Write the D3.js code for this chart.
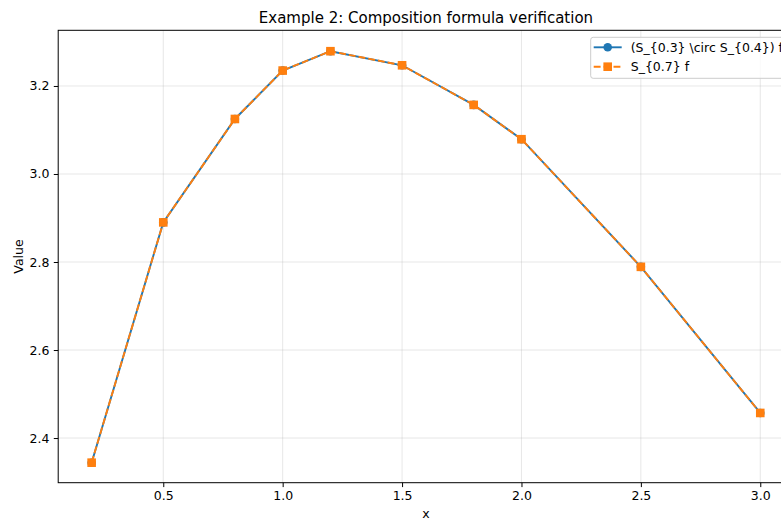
<!DOCTYPE html>
<html>
<head>
<meta charset="utf-8">
<script src="https://cdn.jsdelivr.net/npm/d3@7"></script>
<style>
  body { margin: 0; background: #fff; }
  svg { display: block; font-family: "DejaVu Sans", sans-serif; }
</style>
</head>
<body>
<div id="chart"></div>
<script>
const xValues = [0.2, 0.5, 0.8, 1.0, 1.2, 1.5, 1.8, 2.0, 2.5, 3.0];
const composed = [2.344, 2.890, 3.125, 3.235, 3.279, 3.247, 3.157, 3.079, 2.789, 2.457];
const direct = [2.344, 2.890, 3.125, 3.235, 3.279, 3.247, 3.157, 3.079, 2.789, 2.457];
const xTicks = [0.5, 1.0, 1.5, 2.0, 2.5, 3.0];
const yTicks = [2.4, 2.6, 2.8, 3.0, 3.2];
const seriesNames = ["(S_{0.3} \\circ S_{0.4}) f", "S_{0.7} f"];

function drawChart() {
    const W = 781, H = 520;
    const margin = {top: 30.3, right: -12.7, bottom: 37.3, left: 58.2},
        width = W - margin.left - margin.right,
        height = H - margin.top - margin.bottom;

    const svg = d3.select("#chart")
        .append("svg")
        .attr("width", W)
        .attr("height", H)
        .style("overflow", "hidden");

    const g = svg.append("g")
        .attr("transform", `translate(${margin.left},${margin.top})`);

    const x = d3.scaleLinear().domain([0.06, 3.14]).range([0, width]);
    const y = d3.scaleLinear().domain([2.2985, 3.3265]).range([height, 0]);

    // grid
    g.append("g").selectAll("line").data(xTicks).enter().append("line")
        .attr("x1", d => x(d)).attr("x2", d => x(d))
        .attr("y1", 0).attr("y2", height)
        .attr("stroke", "#b0b0b0").attr("stroke-opacity", 0.3).attr("stroke-width", 1);
    g.append("g").selectAll("line").data(yTicks).enter().append("line")
        .attr("x1", 0).attr("x2", width)
        .attr("y1", d => y(d)).attr("y2", d => y(d))
        .attr("stroke", "#b0b0b0").attr("stroke-opacity", 0.3).attr("stroke-width", 1);

    const line = d3.line().x((d, i) => x(xValues[i])).y(d => y(d));

    // series 1: blue, solid, circles
    g.append("path").datum(composed)
        .attr("fill", "none").attr("stroke", "#1f77b4").attr("stroke-width", 1.9)
        .attr("d", line);
    g.append("g").selectAll("circle").data(composed).enter().append("circle")
        .attr("cx", (d, i) => x(xValues[i])).attr("cy", d => y(d))
        .attr("r", 4.3).attr("fill", "#1f77b4");

    // series 2: orange, dashed, squares
    g.append("path").datum(direct)
        .attr("fill", "none").attr("stroke", "#ff7f0e").attr("stroke-width", 1.9)
        .attr("stroke-dasharray", "6.9,3")
        .attr("d", line);
    g.append("g").selectAll("rect").data(direct).enter().append("rect")
        .attr("x", (d, i) => x(xValues[i]) - 4.3).attr("y", d => y(d) - 4.3)
        .attr("width", 8.6).attr("height", 8.6).attr("fill", "#ff7f0e");

    // axes
    const xAxis = g.append("g")
        .attr("transform", `translate(0,${height})`)
        .call(d3.axisBottom(x).tickValues(xTicks).tickFormat(d3.format(".1f")).tickSize(4.4).tickPadding(4.4));
    const yAxis = g.append("g")
        .call(d3.axisLeft(y).tickValues(yTicks).tickFormat(d3.format(".1f")).tickSize(4.4).tickPadding(4.4));
    [xAxis, yAxis].forEach(a => {
        a.select(".domain").remove();
        a.selectAll("line").attr("stroke", "#000").attr("stroke-width", 1);
        a.selectAll("text").attr("fill", "#000").style("font-size", "12.5px")
            .style("font-family", "DejaVu Sans, sans-serif");
    });

    // frame
    g.append("rect")
        .attr("x", 0).attr("y", 0).attr("width", width).attr("height", height)
        .attr("fill", "none").attr("stroke", "#000").attr("stroke-width", 1);

    // labels
    svg.append("text")
        .attr("x", margin.left + width / 2).attr("y", 23)
        .attr("text-anchor", "middle").style("font-size", "15px")
        .text("Example 2: Composition formula verification");
    svg.append("text")
        .attr("x", margin.left + width / 2).attr("y", 517.5)
        .attr("text-anchor", "middle").style("font-size", "12.5px")
        .text("x");
    svg.append("text")
        .attr("transform", `translate(23,${margin.top + height / 2}) rotate(-90)`)
        .attr("text-anchor", "middle").style("font-size", "12.5px")
        .text("Value");

    // legend
    const lg = svg.append("g").attr("transform", "translate(590.7,37.3)");
    lg.append("rect")
        .attr("x", 0).attr("y", 0).attr("width", 197).attr("height", 41)
        .attr("rx", 2.5)
        .attr("fill", "#fff").attr("fill-opacity", 0.8)
        .attr("stroke", "#cccccc").attr("stroke-width", 1);
    const rows = [
        {name: seriesNames[0], color: "#1f77b4", dash: null, marker: "circle"},
        {name: seriesNames[1], color: "#ff7f0e", dash: "6.9,3", marker: "square"}
    ];
    rows.forEach((r, i) => {
        const cy = 10 + i * 19.4;
        lg.append("line")
            .attr("x1", 3).attr("x2", 31).attr("y1", cy).attr("y2", cy)
            .attr("stroke", r.color).attr("stroke-width", 1.9)
            .attr("stroke-dasharray", r.dash);
        if (r.marker === "circle") {
            lg.append("circle").attr("cx", 17).attr("cy", cy).attr("r", 4.3).attr("fill", r.color);
        } else {
            lg.append("rect").attr("x", 12.7).attr("y", cy - 4.3).attr("width", 8.6).attr("height", 8.6).attr("fill", r.color);
        }
        lg.append("text")
            .attr("x", 40).attr("y", cy + 4.5)
            .style("font-size", "12.5px")
            .text(r.name);
    });
}

drawChart();
</script>
</body>
</html>
